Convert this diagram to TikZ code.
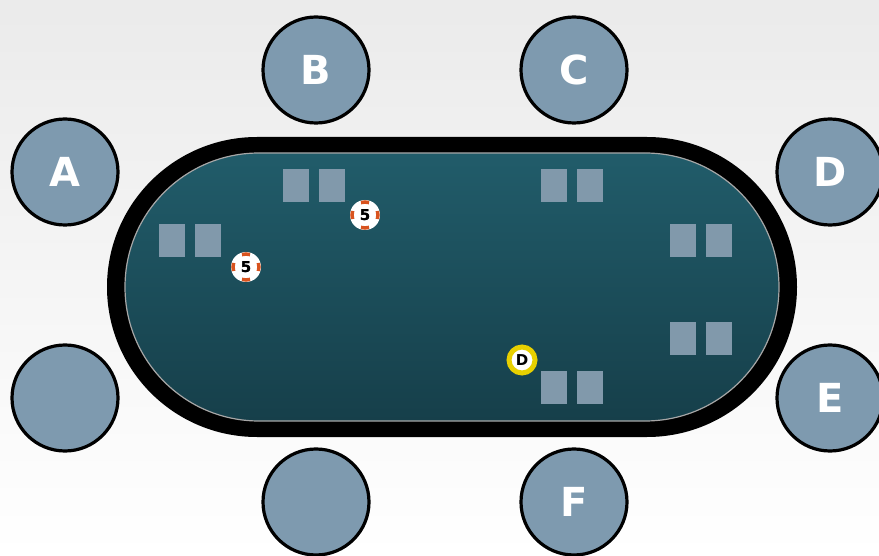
\documentclass[tikz,border=0pt]{standalone}
\usepackage{fontspec}
\setmainfont{DejaVu Sans}
\begin{document}
\begin{tikzpicture}[x=1pt,y=-1pt,
  seat/.style={circle,draw=black,line width=3.2pt,fill=seatblue,minimum size=106pt,inner sep=0pt,text=white,font=\bfseries\fontsize{40}{40}\selectfont},
  card/.style={fill=cardblue,draw=none,minimum width=26pt,minimum height=33pt,inner sep=0pt},
  chip/.style={circle,fill=white,minimum size=30pt,inner sep=0pt,font=\bfseries\fontsize{15}{15}\selectfont,text=black},
  dealer/.style={circle,fill=white,draw=yellowbtn,line width=5pt,minimum size=26pt,inner sep=0pt,font=\bfseries\fontsize{15}{15}\selectfont,text=black}]
\definecolor{seatblue}{HTML}{7E9AAF}
\definecolor{cardblue}{HTML}{8199AB}
\definecolor{tabletop}{HTML}{215C6A}
\definecolor{tablebot}{HTML}{163F4A}
\definecolor{yellowbtn}{HTML}{E8D000}
\definecolor{chiporange}{HTML}{D8531E}
\useasboundingbox (0,0) rectangle (879,556);
\shade[top color=black!8,bottom color=white] (0,0) rectangle (879,556);
% table rim
\fill[black,rounded corners=150pt] (107,137) rectangle (797,437);
\shade[top color=tabletop,bottom color=tablebot,draw=gray!70,line width=1.2pt,rounded corners=134pt] (125,153) rectangle (779,421);
% seats
\node[seat] (A) at (65,172) {A};
\node[seat] (B) at (316,70) {B};
\node[seat] (C) at (574,70) {C};
\node[seat] (D) at (830,172) {D};
\node[seat] (G) at (65,398) {};
\node[seat] (H) at (316,502) {};
\node[seat] (F) at (574,502) {F};
\node[seat] (E) at (830,398) {E};
% cards
\node[card] (b1) at (296,185.5) {};
\node[card] (b2) at (332,185.5) {};
\node[card] (c1) at (554,185.5) {};
\node[card] (c2) at (590,185.5) {};
\node[card] (a1) at (172,240.5) {};
\node[card] (a2) at (208,240.5) {};
\node[card] (d1) at (683,240.5) {};
\node[card] (d2) at (719,240.5) {};
\node[card] (e1) at (683,338.5) {};
\node[card] (e2) at (719,338.5) {};
\node[card] (f1) at (554,387.5) {};
\node[card] (f2) at (590,387.5) {};
% chips
\foreach \n/\x/\y in {chipB/365/215,chipA/246/267}{
  \node[chip] (\n) at (\x,\y) {5};
  \foreach \a in {0,90,180,270}
    \draw[chiporange,line width=3.5pt] (\x,\y) ++(\a-18:13) arc[start angle=\a-18,end angle=\a+18,radius=13];
  \node[font=\bfseries\fontsize{15}{15}\selectfont] at (\x,\y) {5};
}
\node[dealer] (dl) at (522,360) {D};
\end{tikzpicture}
\end{document}
